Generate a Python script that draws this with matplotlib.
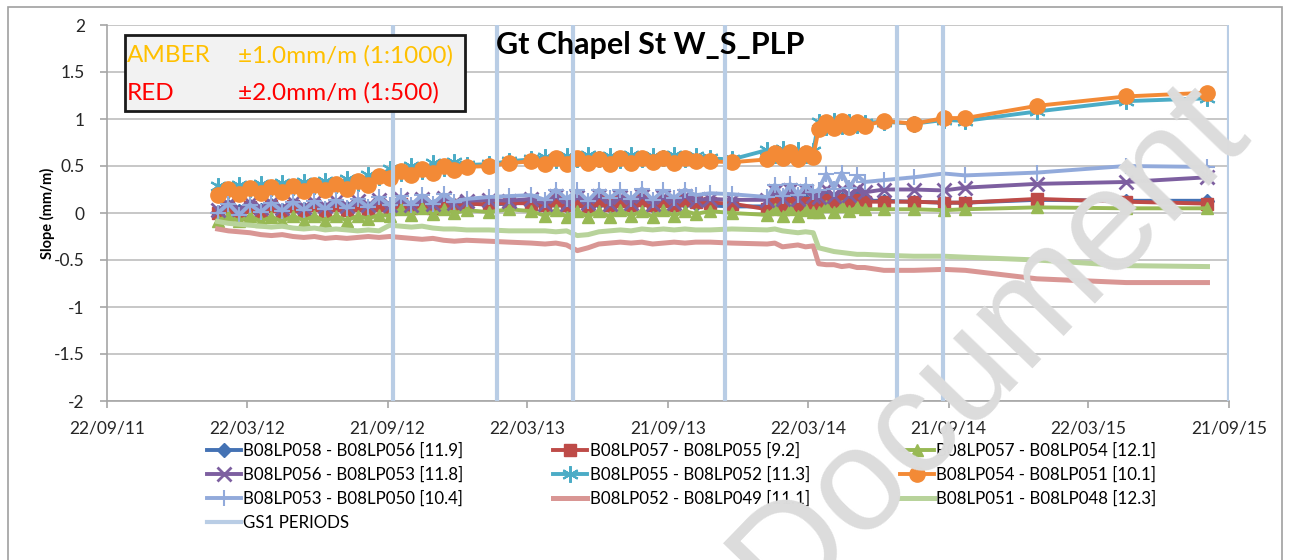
import matplotlib
matplotlib.use('Agg')
import matplotlib.pyplot as plt
from matplotlib.lines import Line2D
from matplotlib.patches import Rectangle
import pandas as pd

plt.rcParams['font.family'] = ['Lato', 'DejaVu Sans']

# reading dates (shared by all series)
dates = pd.to_datetime([
    '2012-02-13', '2012-02-27', '2012-03-12', '2012-03-26', '2012-04-09', '2012-04-23',
    '2012-05-07', '2012-05-21', '2012-06-04', '2012-06-18', '2012-07-02', '2012-07-16',
    '2012-07-30', '2012-08-13', '2012-08-27', '2012-09-10', '2012-09-24', '2012-10-08',
    '2012-10-22', '2012-11-05', '2012-11-19', '2012-12-03', '2012-12-17',
    '2013-01-02', '2013-01-31', '2013-02-26', '2013-03-27',
    '2013-04-14', '2013-04-28', '2013-05-12', '2013-05-26', '2013-06-09', '2013-06-23',
    '2013-07-07', '2013-07-21', '2013-08-04', '2013-08-18', '2013-09-01', '2013-09-15',
    '2013-09-29', '2013-10-13', '2013-10-27',
    '2013-11-15', '2013-12-13',
    '2014-01-28', '2014-02-07', '2014-02-17', '2014-02-27', '2014-03-09', '2014-03-19',
    '2014-03-29', '2014-04-05', '2014-04-15', '2014-04-25', '2014-05-05', '2014-05-15',
    '2014-05-25', '2014-06-04',
    '2014-06-29', '2014-08-07', '2014-09-15', '2014-10-13', '2015-01-14', '2015-05-10',
    '2015-08-24',
])

lp058_056 = [0.01, 0.07, 0.02, 0.07, 0.03, 0.08, 0.03, 0.08, 0.04, 0.09, 0.04, 0.09,
             0.05, 0.10, 0.05, 0.10, 0.06, 0.11, 0.06, 0.11, 0.07, 0.12, 0.08,
             0.10, 0.09, 0.10, 0.11,
             0.07, 0.12, 0.07, 0.12, 0.06, 0.12, 0.07, 0.12, 0.07, 0.13, 0.07, 0.12,
             0.07, 0.12, 0.10,
             0.08, 0.07,
             0.07, 0.13, 0.07, 0.13, 0.08, 0.13, 0.10, 0.10, 0.16, 0.10, 0.15, 0.11,
             0.16, 0.13,
             0.13, 0.12, 0.11, 0.11, 0.14, 0.13, 0.13]
lp057_055 = [0.00, 0.06, -0.01, 0.06, 0.00, 0.07, 0.01, 0.07, 0.01, 0.08, 0.02, 0.08,
             0.03, 0.09, 0.03, 0.09, 0.04, 0.10, 0.05, 0.10, 0.05, 0.11, 0.08,
             0.10, 0.09, 0.11, 0.10,
             0.08, 0.14, 0.08, 0.13, 0.07, 0.14, 0.08, 0.13, 0.08, 0.14, 0.08, 0.13,
             0.08, 0.14, 0.12,
             0.11, 0.10,
             0.04, 0.11, 0.04, 0.11, 0.05, 0.11, 0.09, 0.08, 0.14, 0.08, 0.14, 0.09,
             0.14, 0.12,
             0.12, 0.12, 0.11, 0.11, 0.15, 0.12, 0.10]
lp057_054 = [-0.08, -0.03, -0.09, -0.03, -0.09, -0.04, -0.09, -0.03, -0.08, -0.03, -0.09, -0.03,
             -0.08, -0.03, -0.06, -0.02, -0.03, 0.04, -0.02, 0.05, -0.01, 0.04, 0.00,
             0.03, 0.01, 0.04, 0.02,
             -0.03, 0.03, -0.04, 0.02, -0.04, 0.02, -0.04, 0.03, -0.03, 0.02, -0.04, 0.03,
             -0.03, 0.02, -0.01,
             0.02, 0.00,
             -0.02, 0.04, -0.03, 0.04, -0.03, 0.03, 0.01, 0.01, 0.07, 0.01, 0.07, 0.02,
             0.06, 0.04,
             0.04, 0.04, 0.03, 0.04, 0.06, 0.05, 0.05]
lp056_053 = [0.03, 0.10, 0.04, 0.11, 0.05, 0.11, 0.05, 0.12, 0.06, 0.12, 0.07, 0.13,
             0.07, 0.13, 0.08, 0.14, 0.09, 0.15, 0.09, 0.15, 0.10, 0.16, 0.11,
             0.13, 0.14, 0.13, 0.15,
             0.10, 0.18, 0.10, 0.17, 0.11, 0.18, 0.10, 0.17, 0.11, 0.18, 0.10, 0.17,
             0.11, 0.18, 0.14,
             0.15, 0.14,
             0.14, 0.23, 0.15, 0.24, 0.15, 0.23, 0.18, 0.17, 0.26, 0.18, 0.26, 0.19,
             0.26, 0.22,
             0.25, 0.25, 0.24, 0.27, 0.31, 0.33, 0.38]
lp055_052 = [0.29, 0.25, 0.30, 0.26, 0.31, 0.27, 0.32, 0.28, 0.33, 0.29, 0.34, 0.30,
             0.36, 0.32, 0.40, 0.38, 0.47, 0.43, 0.50, 0.45, 0.53, 0.48, 0.54,
             0.51, 0.52, 0.55, 0.57,
             0.60, 0.56, 0.61, 0.57, 0.62, 0.57, 0.61, 0.56, 0.62, 0.57, 0.61, 0.58,
             0.62, 0.57, 0.61,
             0.58, 0.57,
             0.67, 0.62, 0.68, 0.63, 0.67, 0.62, 0.66, 0.97, 0.92, 0.98, 0.93, 0.97,
             0.94, 0.96,
             0.97, 0.95, 0.99, 0.98, 1.08, 1.19, 1.22]
lp054_051 = [0.19, 0.26, 0.20, 0.27, 0.21, 0.28, 0.22, 0.29, 0.23, 0.30, 0.24, 0.31,
             0.26, 0.34, 0.30, 0.39, 0.37, 0.45, 0.40, 0.47, 0.43, 0.50, 0.46,
             0.49, 0.50, 0.53, 0.55,
             0.52, 0.58, 0.52, 0.58, 0.53, 0.57, 0.52, 0.58, 0.53, 0.59, 0.54, 0.58,
             0.53, 0.59, 0.55,
             0.55, 0.54,
             0.57, 0.64, 0.58, 0.65, 0.57, 0.64, 0.60, 0.89, 0.97, 0.90, 0.98, 0.91,
             0.97, 0.93,
             0.98, 0.95, 1.01, 1.01, 1.14, 1.24, 1.28]
lp053_050 = [0.00, 0.10, -0.02, 0.09, 0.01, 0.11, 0.02, 0.12, 0.03, 0.13, 0.04, 0.14,
             0.05, 0.15, 0.06, 0.17, 0.08, 0.18, 0.09, 0.19, 0.10, 0.20, 0.12,
             0.15, 0.17, 0.18, 0.19,
             0.14, 0.25, 0.15, 0.24, 0.13, 0.25, 0.16, 0.24, 0.15, 0.26, 0.14, 0.24,
             0.16, 0.25, 0.19,
             0.21, 0.20,
             0.17, 0.30, 0.18, 0.31, 0.19, 0.30, 0.22, 0.25, 0.42, 0.26, 0.43, 0.27,
             0.40, 0.33,
             0.35, 0.38, 0.42, 0.40, 0.43, 0.50, 0.49]
lp052_049 = [-0.17, -0.19, -0.20, -0.21, -0.23, -0.24, -0.23, -0.25, -0.26, -0.25, -0.27, -0.26,
             -0.27, -0.26, -0.25, -0.26, -0.25, -0.26, -0.27, -0.28, -0.27, -0.29, -0.30,
             -0.29, -0.30, -0.31, -0.32,
             -0.33, -0.32, -0.34, -0.40, -0.37, -0.33, -0.32, -0.31, -0.32, -0.31, -0.33, -0.32,
             -0.31, -0.32, -0.31,
             -0.31, -0.32,
             -0.33, -0.32, -0.36, -0.35, -0.34, -0.36, -0.35, -0.54, -0.55, -0.55, -0.57, -0.56,
             -0.58, -0.58,
             -0.61, -0.61, -0.60, -0.61, -0.70, -0.74, -0.74]
lp051_048 = [-0.09, -0.11, -0.12, -0.13, -0.14, -0.15, -0.14, -0.16, -0.17, -0.16, -0.18, -0.17,
             -0.18, -0.19, -0.18, -0.19, -0.13, -0.14, -0.15, -0.14, -0.16, -0.17, -0.17,
             -0.18, -0.18, -0.19, -0.19,
             -0.19, -0.20, -0.19, -0.24, -0.23, -0.20, -0.19, -0.18, -0.19, -0.17, -0.18, -0.17,
             -0.18, -0.17, -0.18,
             -0.18, -0.17,
             -0.18, -0.17, -0.19, -0.20, -0.21, -0.20, -0.21, -0.37, -0.39, -0.41, -0.42, -0.43,
             -0.44, -0.44,
             -0.45, -0.46, -0.46, -0.47, -0.50, -0.56, -0.57]

gs1_periods = pd.to_datetime(['2012-09-28', '2013-02-11', '2013-05-21', '2013-12-04',
                              '2014-07-16', '2014-09-14', '2015-09-21'])

tick_dates = pd.to_datetime(['2011-09-22', '2012-03-22', '2012-09-21', '2013-03-22',
                             '2013-09-21', '2014-03-22', '2014-09-21', '2015-03-22',
                             '2015-09-21'])
tick_labels = [d.strftime('%d/%m/%y') for d in tick_dates]

# name, values, colour, marker, marker size, marker edge width, line width
series = [
    ('B08LP058 - B08LP056 [11.9]', lp058_056, '#4472B4', 'D', 7, 1, 2.8),
    ('B08LP057 - B08LP055 [9.2]', lp057_055, '#BE4B48', 's', 8, 1, 2.8),
    ('B08LP057 - B08LP054 [12.1]', lp057_054, '#98B954', '^', 9, 1, 2.8),
    ('B08LP056 - B08LP053 [11.8]', lp056_053, '#7D5FA0', 'x', 10, 2, 2.8),
    ('B08LP055 - B08LP052 [11.3]', lp055_052, '#4BACC6', (6, 2, 0), 12, 1.5, 2.8),
    ('B08LP054 - B08LP051 [10.1]', lp054_051, '#F38A36', 'o', 11, 1, 2.8),
    ('B08LP053 - B08LP050 [10.4]', lp053_050, '#92AADB', '+', 12, 1.5, 2.8),
    ('B08LP052 - B08LP049 [11.1]', lp052_049, '#D99694', None, 0, 1, 3.6),
    ('B08LP051 - B08LP048 [12.3]', lp051_048, '#B8D39B', None, 0, 1, 3.6),
]
gs1_color = '#B9CDE5'

fig = plt.figure(figsize=(12.91, 5.60), dpi=100)
ax = fig.add_axes([107 / 1291, 1 - 401 / 560, 1122 / 1291, 376 / 560])

handles = []
for name, vals, col, mk, ms, mew, lw in series:
    h, = ax.plot(dates, vals, color=col, lw=lw, marker=mk, ms=ms, mew=mew,
                 mec=col, mfc=col, label=name, zorder=3)
    handles.append(h)
ax.vlines(gs1_periods, -2, 2, colors=gs1_color, lw=3, zorder=4)
gs1_handle = Line2D([], [], color=gs1_color, lw=3, label='GS1 PERIODS')

ax.set_ylim(-2, 2)
ax.set_xlim(tick_dates[0], tick_dates[-1])
ax.set_yticks([-2, -1.5, -1, -0.5, 0, 0.5, 1, 1.5, 2])
ax.set_yticklabels(['-2', '-1.5', '-1', '-0.5', '0', '0.5', '1', '1.5', '2'])
ax.set_xticks(tick_dates)
ax.set_xticklabels(tick_labels)
ax.grid(axis='y', color='#BEBEBE', lw=1.2)
ax.set_axisbelow(True)
for s in ['top', 'right']:
    ax.spines[s].set_visible(False)
for s in ['left', 'bottom']:
    ax.spines[s].set_color('#A6A6A6')
    ax.spines[s].set_linewidth(1.2)
ax.tick_params(axis='both', colors='#A6A6A6', labelcolor='#262626', labelsize=12.5,
               length=5, width=1.2)
ax.tick_params(axis='x', pad=9)
ax.tick_params(axis='y', pad=11)
ax.set_ylabel('Slope (mm/m)', fontsize=10.5, fontweight='bold', labelpad=-1)

fig.text(650 / 1291, 1 - 45 / 560, 'Gt Chapel St W_S_PLP', ha='center', va='center',
         fontsize=22, fontweight='bold')

# trigger level box
fig.patches.append(Rectangle((125 / 1291, 1 - 111 / 560), 340 / 1291, 76 / 560,
                             transform=fig.transFigure, facecolor='#F2F2F2',
                             edgecolor='#1A1A1A', lw=2, zorder=6))
fig.text(127 / 1291, 1 - 56 / 560, 'AMBER', color='#FFC000', fontsize=17.5,
         va='center', zorder=7)
fig.text(238 / 1291, 1 - 56 / 560, '±1.0mm/m (1:1000)', color='#FFC000', fontsize=17.5,
         va='center', zorder=7)
fig.text(127 / 1291, 1 - 93 / 560, 'RED', color='#FF0000', fontsize=17.5,
         va='center', zorder=7)
fig.text(238 / 1291, 1 - 93 / 560, '±2.0mm/m (1:500)', color='#FF0000', fontsize=17.5,
         va='center', zorder=7)

order = [handles[0], handles[3], handles[6], gs1_handle,
         handles[1], handles[4], handles[7],
         handles[2], handles[5], handles[8]]
fig.legend(handles=order, labels=[h.get_label() for h in order], ncol=3,
           loc='upper left', bbox_to_anchor=(207 / 1291, 1 - 443 / 560),
           frameon=False, fontsize=12.2, handlelength=2.0, handletextpad=0.15,
           columnspacing=5.3, labelspacing=0.45, borderpad=0, borderaxespad=0)

# outer chart border
fig.patches.append(Rectangle((8 / 1291, -0.02), 1274 / 1291, 1 + 0.02 - 7 / 560,
                             transform=fig.transFigure, fill=False,
                             edgecolor='#A0A0A0', lw=1.2))

# watermark
fig.text(990 / 1291, 1 - 345 / 560, 'Document', rotation=46, fontsize=106,
         color='#DCDCDC', ha='center', va='center', family='Liberation Sans', zorder=10)

fig.savefig('out.png', dpi=100)
